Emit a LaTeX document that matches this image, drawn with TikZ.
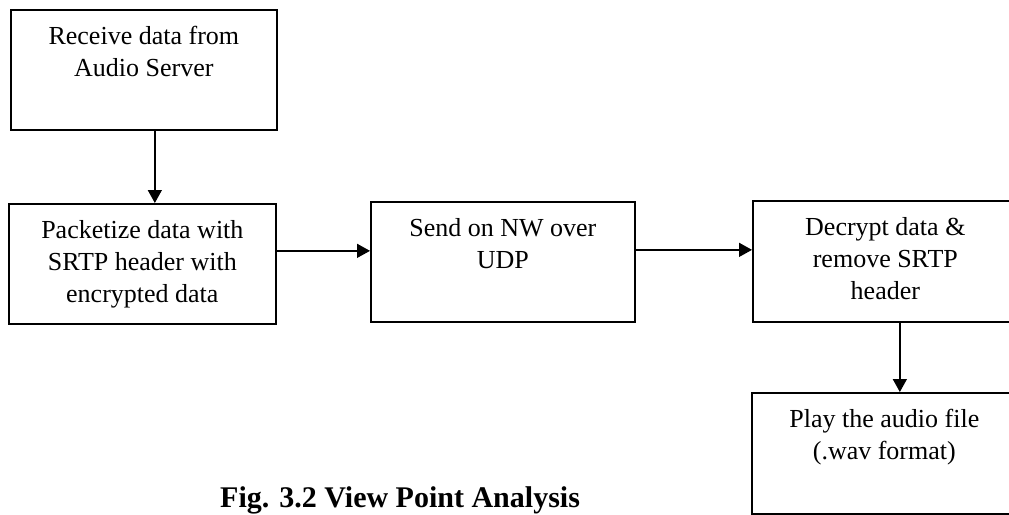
\documentclass[tikz,border=0pt]{standalone}
\usepackage{fontspec}
\setmainfont{Liberation Serif}
\usetikzlibrary{arrows.meta}

% box body: fixed-size parbox, first baseline 35pt below the top edge
\newcommand{\stepcontent}[3]{\parbox[t][#2][t]{#1}{\centering\rule{0pt}{35pt}#3}}

\tikzset{
  stepbox/.style={draw=black, line width=1.7pt, inner sep=0pt, anchor=north west,
                  font=\fontsize{26}{32}\selectfont},
  arr/.style={draw=black, line width=1.5pt, -{Triangle[length=13pt,width=14pt]}},
  caption/.style={anchor=base west, inner sep=0pt, font=\fontsize{30}{36}\selectfont\bfseries}
}

\begin{document}
\begin{tikzpicture}[x=1pt, y=-1pt]
\useasboundingbox (0,0) rectangle (1009,514);
\clip (0,0) rectangle (1009,514);
\fill[white] (0,0) rectangle (1009,514);

\node[stepbox] (recv) at (10,9)   {\stepcontent{266pt}{120pt}{Receive data from\\Audio Server}};
\node[stepbox] (pack) at (8,203)  {\stepcontent{267pt}{120pt}{Packetize data with\\SRTP header with\\encrypted data}};
\node[stepbox] (send) at (370,201){\stepcontent{264pt}{120pt}{Send on NW over\\UDP}};
\node[stepbox] (decr) at (752,200){\stepcontent{265pt}{121pt}{Decrypt data \&\\remove SRTP\\header}};
\node[stepbox] (play) at (751,392){\stepcontent{265pt}{121pt}{Play the audio file\\(.wav format)}};

\draw[arr] ([xshift=11pt]recv.south) -- ([xshift=11pt]recv.south |- pack.north);
\draw[arr] ([yshift=13pt]pack.east) -- ([yshift=13pt]pack.east -| send.west);
\draw[arr] ([yshift=12pt]send.east) -- ([yshift=12pt]send.east -| decr.west);
\draw[arr] ([xshift=14.5pt]decr.south) -- ([xshift=14.5pt]decr.south |- play.north);

\node[caption] (cap) at (220,507) {Fig. 3.2 View Point Analysis};
\end{tikzpicture}
\end{document}
